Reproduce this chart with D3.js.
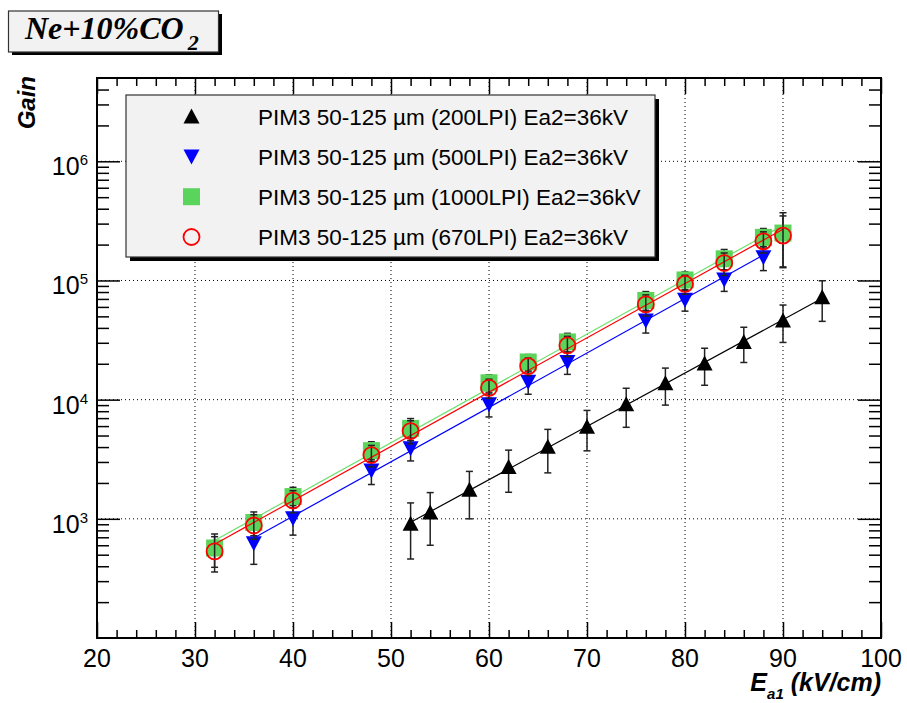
<!DOCTYPE html>
<html><head><meta charset="utf-8">
<script src="https://cdn.jsdelivr.net/npm/d3@7"></script>
<style>
html,body{margin:0;padding:0;background:#fff;}
svg{display:block;}
</style>
</head><body>
<svg id="c" width="907" height="703" font-family="Liberation Sans, Arial, Helvetica, sans-serif"></svg>
<script>
// ---------------- data ----------------
const xTickLabels = [20,30,40,50,60,70,80,90,100];
const yTickExponents = [3,4,5,6];

const x200 = [52,54,58,62,66,70,74,78,82,86,90,94];
const g200 = [910,1130,1750,2720,4030,5920,9160,13700,20100,30500,46200,72400];
const e200 = [450,530,750,1050,1600,2200,3300,4700,6900,10000,16000,27000];

const x500 = [36,40,48,52,60,64,68,76,80,84,88];
const g500 = [625,1010,2540,3910,9160,14100,20700,46200,68800,102000,157000];
const e500 = [210,280,600,850,2000,3000,4400,10000,13500,21000,36000];

const x1000 = [32,36,40,48,52,60,64,68,76,80,84,88,90];
const g1000 = [569,932,1537,3735,5740,13850,20700,30500,68000,101000,152000,230000,250000];
const e1000 = [177,210,300,700,1200,2300,3200,5500,12700,17000,30000,43000,120000];

const x670 = [32,36,40,48,52,60,64,68,76,80,84,88,90];
const g670 = [533,879,1423,3430,5450,12550,19100,28500,63000,93600,140000,213000,238000];
const e670 = [175,205,300,700,1200,2300,3200,5500,12700,17000,30000,43000,110000];

const seriesNames = [
  "PIM3 50-125 \u00b5m (200LPI) Ea2=36kV",
  "PIM3 50-125 \u00b5m (500LPI) Ea2=36kV",
  "PIM3 50-125 \u00b5m (1000LPI) Ea2=36kV",
  "PIM3 50-125 \u00b5m (670LPI) Ea2=36kV"
];

// ---------------- setup ----------------
const svg = d3.select("#c");
const L = 97, R = 881, T = 78, B = 638;
const x = d3.scaleLinear().domain([20,100]).range([L,R]);
const y = d3.scaleLog().domain([100,5e6]).range([B,T]);

const series = [
  {xs:x200, ys:g200, es:e200, marker:"up",   fill:"#000", stroke:"none", line:"#000"},
  {xs:x500, ys:g500, es:e500, marker:"down", fill:"#0000ff", stroke:"none", line:"#0000ff"},
  {xs:x1000,ys:g1000,es:e1000,marker:"square",fill:"#5ad45a", stroke:"none", line:"#6ee06e"},
  {xs:x670, ys:g670, es:e670, marker:"circle",fill:"none", stroke:"#ff0000", line:"#ff0000"}
];

// ---------------- grid ----------------
const grid = svg.append("g").attr("stroke","#000").attr("stroke-width",1).attr("stroke-dasharray","1,3");
xTickLabels.slice(1,-1).forEach(v=>{
  grid.append("line").attr("x1",x(v)).attr("x2",x(v)).attr("y1",T).attr("y2",B);
});
yTickExponents.forEach(p=>{
  grid.append("line").attr("x1",L).attr("x2",R).attr("y1",y(Math.pow(10,p))).attr("y2",y(Math.pow(10,p)));
});

// ---------------- markers ----------------
function markerPath(type){
  const h = 8;
  if(type==="up") return `M0,${-h}L${h},${h-1}L${-h},${h-1}Z`;
  if(type==="down") return `M0,${h}L${h},${-h+1}L${-h},${-h+1}Z`;
  if(type==="square") return `M${-8.5},${-8.5}h17v17h-17Z`;
  return null;
}
function drawMarker(g, s, px, py){
  if(s.marker==="circle"){
    g.append("circle").attr("cx",px).attr("cy",py).attr("r",8)
      .attr("fill","none").attr("stroke",s.stroke).attr("stroke-width",1.8);
  } else {
    g.append("path").attr("d",markerPath(s.marker)).attr("transform",`translate(${px},${py})`)
      .attr("fill",s.fill);
  }
}

// ---------------- series ----------------
const plot = svg.append("g");
series.forEach(s=>{
  // exponential fit (least squares in log space)
  const n = s.xs.length;
  const lx = s.xs, ly = s.ys.map(v=>Math.log10(v));
  const mx = d3.mean(lx), my = d3.mean(ly);
  let sxy=0, sxx=0;
  for(let i=0;i<n;i++){ sxy+=(lx[i]-mx)*(ly[i]-my); sxx+=(lx[i]-mx)*(lx[i]-mx); }
  const b = sxy/sxx, a = my - b*mx;
  const ends = [d3.min(lx), d3.max(lx)];
  const line = d3.line().x(d=>x(d)).y(d=>y(Math.pow(10,a+b*d)));
  plot.append("path").attr("d",line(ends)).attr("fill","none").attr("stroke",s.line).attr("stroke-width",1.2);

  // error bars
  const eg = plot.append("g").attr("stroke","#222").attr("stroke-width",1.5);
  s.xs.forEach((xv,i)=>{
    const px = x(xv), yt = y(s.ys[i]+s.es[i]), yb = y(Math.max(s.ys[i]-s.es[i],1));
    eg.append("line").attr("x1",px).attr("x2",px).attr("y1",yt).attr("y2",yb);
    eg.append("line").attr("x1",px-3.5).attr("x2",px+3.5).attr("y1",yt).attr("y2",yt);
    eg.append("line").attr("x1",px-3.5).attr("x2",px+3.5).attr("y1",yb).attr("y2",yb);
  });
  const mg = plot.append("g");
  s.xs.forEach((xv,i)=> drawMarker(mg, s, x(xv), y(s.ys[i])));
});

// ---------------- axes (ticks inward) ----------------
const xMinor = d3.range(20,100.01,2).filter(v=>v%10!==0);
const yMinor = [];
for(let p=2;p<=6;p++) for(let m=2;m<=9;m++){ const v=m*Math.pow(10,p); if(v<5e6) yMinor.push(v); }
const yMajor = yTickExponents.map(p=>Math.pow(10,p));

function tickAxis(axisFn, scale, vals, size, tr){
  const g = svg.append("g").attr("transform",tr)
    .call(axisFn(scale).tickValues(vals).tickSize(size).tickSizeOuter(0).tickFormat(""));
  g.select(".domain").remove();
  g.selectAll(".tick line").attr("stroke","#000").attr("stroke-width",1.5);
  return g;
}
tickAxis(d3.axisBottom, x, xMinor, -8, `translate(0,${B})`);
tickAxis(d3.axisBottom, x, xTickLabels, -16, `translate(0,${B})`);
tickAxis(d3.axisTop, x, xMinor, -8, `translate(0,${T})`);
tickAxis(d3.axisTop, x, xTickLabels, -16, `translate(0,${T})`);
tickAxis(d3.axisLeft, y, yMinor, -12, `translate(${L},0)`);
tickAxis(d3.axisLeft, y, yMajor, -23, `translate(${L},0)`);
tickAxis(d3.axisRight, y, yMinor, -12, `translate(${R},0)`);
tickAxis(d3.axisRight, y, yMajor, -23, `translate(${R},0)`);

svg.append("rect").attr("x",L).attr("y",T).attr("width",R-L).attr("height",B-T)
  .attr("fill","none").attr("stroke","#000").attr("stroke-width",2);

// tick labels
xTickLabels.forEach(v=>{
  svg.append("text").attr("x",x(v)).attr("y",667).attr("text-anchor","middle")
    .attr("font-size",25).text(v);
});
yTickExponents.forEach(p=>{
  const yy = y(Math.pow(10,p));
  const t = svg.append("text").attr("x",88).attr("y",yy+14).attr("text-anchor","end").attr("font-size",25);
  t.append("tspan").text("10");
  t.append("tspan").attr("dy",-10).attr("font-size",15).text(p);
});

// axis titles
const xt = svg.append("text").attr("x",881).attr("y",691).attr("text-anchor","end")
  .attr("font-size",25).attr("font-weight","bold").attr("font-style","italic");
xt.append("tspan").text("E");
xt.append("tspan").attr("dy",8).attr("font-size",15).text("a1");
xt.append("tspan").attr("dy",-8).text(" (kV/cm)");

svg.append("text").attr("transform","translate(35,76) rotate(-90)").attr("text-anchor","end")
  .attr("font-size",24).attr("font-weight","bold").attr("font-style","italic").text("Gain");

// ---------------- legend ----------------
const lg = {x:126, y:95, w:529, h:162};
svg.append("rect").attr("x",lg.x+4).attr("y",lg.y+4).attr("width",lg.w).attr("height",lg.h).attr("fill","#000");
svg.append("rect").attr("x",lg.x).attr("y",lg.y).attr("width",lg.w).attr("height",lg.h)
  .attr("fill","#f2f2f2").attr("stroke","#333").attr("stroke-width",1.2);
const rowY = [116.5,156.5,196.7,237];
series.forEach((s,i)=>{
  drawMarker(svg, s, 191.5, rowY[i]);
  svg.append("text").attr("x",258).attr("y",rowY[i]+8).attr("font-size",22.5).text(seriesNames[i]);
});

// ---------------- title box ----------------
svg.append("rect").attr("x",12).attr("y",14).attr("width",210).attr("height",41).attr("fill","#000");
svg.append("rect").attr("x",8.5).attr("y",11).attr("width",210).attr("height",41)
  .attr("fill","#f2f2f2").attr("stroke","#333").attr("stroke-width",1.2);
const tt = svg.append("text").attr("x",25).attr("y",39)
  .attr("font-family","Liberation Serif, Times New Roman, serif")
  .attr("font-size",32).attr("font-weight","bold").attr("font-style","italic");
tt.append("tspan").text("Ne+10%CO");
tt.append("tspan").attr("dx",4).attr("dy",11).attr("font-size",22).text("2");
</script>
</body></html>
